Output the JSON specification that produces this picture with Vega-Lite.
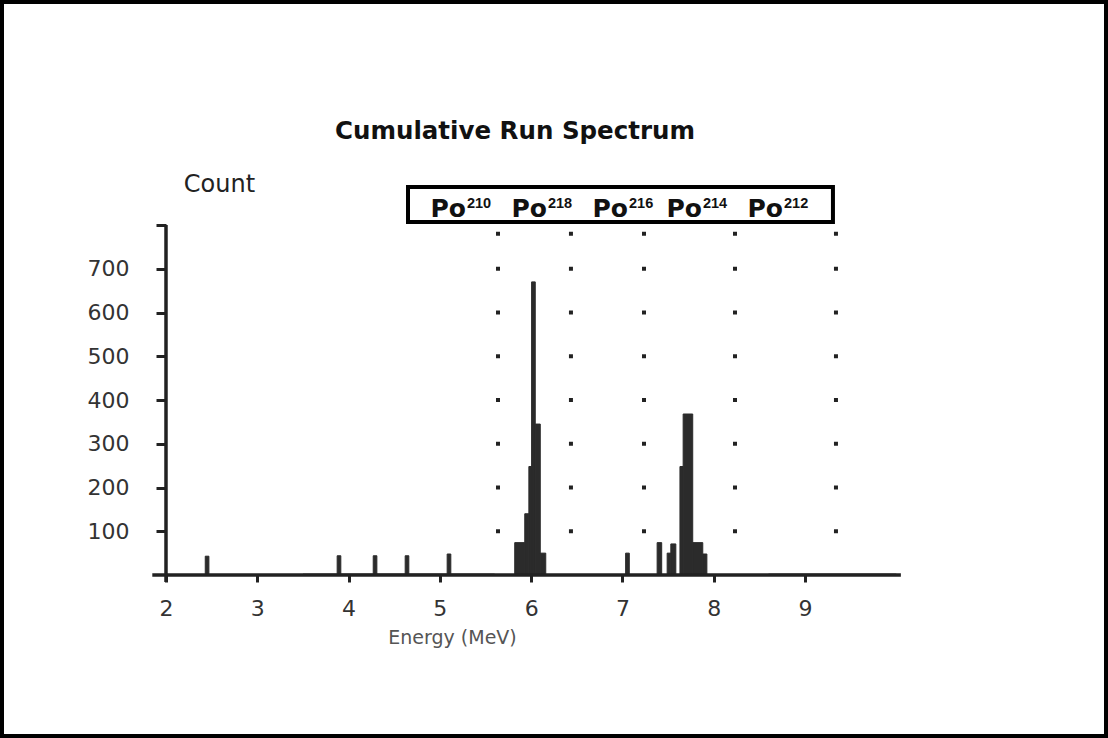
{
  "$schema": "https://vega.github.io/schema/vega-lite/v6.json",
  "width": 1108,
  "height": 738,
  "padding": 0,
  "autosize": {"type": "none"},
  "background": "white",
  "config": {"view": {"stroke": "#000", "strokeWidth": 8}, "font": "DejaVu Sans"},
  "title": {"text": "Cumulative Run Spectrum", "font": "DejaVu Sans", "fontSize": 24.5, "fontWeight": "bold", "color": "#111", "anchor": "middle", "frame": "group", "offset": -163, "dx": -39, "baseline": "alphabetic"},
  "datasets": {
    "bars": [
      {"e0": 2.43, "e1": 2.47, "count": 43},
      {"e0": 3.875, "e1": 3.915, "count": 44},
      {"e0": 4.27, "e1": 4.31, "count": 44},
      {"e0": 4.62, "e1": 4.66, "count": 44},
      {"e0": 5.08, "e1": 5.12, "count": 48},
      {"e0": 5.82, "e1": 5.93, "count": 74},
      {"e0": 5.93, "e1": 5.975, "count": 140},
      {"e0": 5.975, "e1": 6.005, "count": 248},
      {"e0": 6.005, "e1": 6.045, "count": 670},
      {"e0": 6.045, "e1": 6.10, "count": 345},
      {"e0": 6.10, "e1": 6.16, "count": 50},
      {"e0": 7.035, "e1": 7.075, "count": 50},
      {"e0": 7.38, "e1": 7.43, "count": 74},
      {"e0": 7.49, "e1": 7.53, "count": 50},
      {"e0": 7.53, "e1": 7.585, "count": 71},
      {"e0": 7.63, "e1": 7.665, "count": 248},
      {"e0": 7.665, "e1": 7.77, "count": 368},
      {"e0": 7.77, "e1": 7.88, "count": 74},
      {"e0": 7.88, "e1": 7.925, "count": 48},
      {"e0": 3.5, "e1": 5.6, "count": 2},
      {"e0": 8.6, "e1": 10.0, "count": 2}
    ],
    "axisLines": [
      {"e0": 1.85, "e1": 10.05, "count": 0, "c2": 0},
      {"e0": 2, "e1": 2, "count": -16, "c2": 800}
    ],
    "dots": [
      {"e0": 5.637, "count": 100}, {"e0": 5.637, "count": 200}, {"e0": 5.637, "count": 300}, {"e0": 5.637, "count": 400}, {"e0": 5.637, "count": 500}, {"e0": 5.637, "count": 600}, {"e0": 5.637, "count": 700}, {"e0": 5.637, "count": 780},
      {"e0": 6.436, "count": 100}, {"e0": 6.436, "count": 200}, {"e0": 6.436, "count": 300}, {"e0": 6.436, "count": 400}, {"e0": 6.436, "count": 500}, {"e0": 6.436, "count": 600}, {"e0": 6.436, "count": 700}, {"e0": 6.436, "count": 780},
      {"e0": 7.236, "count": 100}, {"e0": 7.236, "count": 200}, {"e0": 7.236, "count": 300}, {"e0": 7.236, "count": 400}, {"e0": 7.236, "count": 500}, {"e0": 7.236, "count": 600}, {"e0": 7.236, "count": 700}, {"e0": 7.236, "count": 780},
      {"e0": 8.233, "count": 100}, {"e0": 8.233, "count": 200}, {"e0": 8.233, "count": 300}, {"e0": 8.233, "count": 400}, {"e0": 8.233, "count": 500}, {"e0": 8.233, "count": 600}, {"e0": 8.233, "count": 700}, {"e0": 8.233, "count": 780},
      {"e0": 9.339, "count": 100}, {"e0": 9.339, "count": 200}, {"e0": 9.339, "count": 300}, {"e0": 9.339, "count": 400}, {"e0": 9.339, "count": 500}, {"e0": 9.339, "count": 600}, {"e0": 9.339, "count": 700}, {"e0": 9.339, "count": 780}
    ],
    "legendBox": [
      {"e0": 4.651, "e1": 9.306, "count": 806.9, "c2": 886.9}
    ],
    "isotopes": [
      {"e0": 5.297, "count": 818, "label": "Po", "sup": "210"},
      {"e0": 6.184, "count": 818, "label": "Po", "sup": "218"},
      {"e0": 7.072, "count": 818, "label": "Po", "sup": "216"},
      {"e0": 7.882, "count": 818, "label": "Po", "sup": "214"},
      {"e0": 8.770, "count": 818, "label": "Po", "sup": "212"}
    ]
  },
  "encoding": {
    "x": {
      "field": "e0", "type": "quantitative",
      "scale": {"domain": [0.1816, 12.319], "nice": false, "zero": false},
      "axis": {
        "values": [2, 3, 4, 5, 6, 7, 8, 9],
        "offset": -163, "domain": false, "grid": false,
        "tickSize": 7, "tickWidth": 3, "tickColor": "#222",
        "labelFont": "DejaVu Sans", "labelFontSize": 22, "labelColor": "#333", "labelPadding": 16, "labelFlush": false,
        "title": "Energy (MeV)", "titleFont": "DejaVu Sans", "titleFontSize": 19, "titleFontWeight": "normal", "titleColor": "#555",
        "titleX": 452, "titleY": 62, "titleAlign": "center", "titleBaseline": "middle"
      }
    },
    "y": {
      "field": "count", "type": "quantitative",
      "scale": {"domain": [-372.57, 1314.29], "nice": false, "zero": false},
      "axis": {
        "values": [100, 200, 300, 400, 500, 600, 700, 800],
        "labelExpr": "datum.value == 800 ? '' : datum.label",
        "offset": -166, "domain": false, "grid": false,
        "tickSize": 10, "tickWidth": 3, "tickColor": "#222",
        "labelFont": "DejaVu Sans", "labelFontSize": 22, "labelColor": "#333", "labelPadding": 27,
        "title": "Count", "titleFont": "DejaVu Sans", "titleFontSize": 24, "titleFontWeight": "normal", "titleColor": "#222",
        "titleAngle": 0, "titleX": 53, "titleY": 184, "titleAlign": "center", "titleBaseline": "middle"
      }
    }
  },
  "layer": [
    {
      "data": {"name": "bars"},
      "mark": {"type": "rect", "color": "#2b2b2b", "stroke": "#2b2b2b", "strokeWidth": 1},
      "encoding": {"x2": {"field": "e1"}, "y2": {"datum": 0}}
    },
    {
      "data": {"name": "axisLines"},
      "mark": {"type": "rule", "color": "#222", "strokeWidth": 3.5},
      "encoding": {"x2": {"field": "e1"}, "y2": {"field": "c2"}}
    },
    {
      "data": {"name": "dots"},
      "mark": {"type": "square", "color": "#222", "filled": true, "size": 16, "opacity": 1},
      "encoding": {}
    },
    {
      "data": {"name": "legendBox"},
      "mark": {"type": "rect", "fill": "white", "stroke": "#000", "strokeWidth": 4},
      "encoding": {"x2": {"field": "e1"}, "y2": {"field": "c2"}}
    },
    {
      "data": {"name": "isotopes"},
      "mark": {"type": "text", "font": "DejaVu Sans", "fontWeight": "bold", "fontSize": 25, "align": "right", "baseline": "alphabetic", "color": "#111", "dx": -1},
      "encoding": {"text": {"field": "label"}}
    },
    {
      "data": {"name": "isotopes"},
      "mark": {"type": "text", "font": "Liberation Sans", "fontWeight": "bold", "fontSize": 14.5, "align": "left", "baseline": "alphabetic", "color": "#111", "dy": -9},
      "encoding": {"text": {"field": "sup"}}
    }
  ]
}
